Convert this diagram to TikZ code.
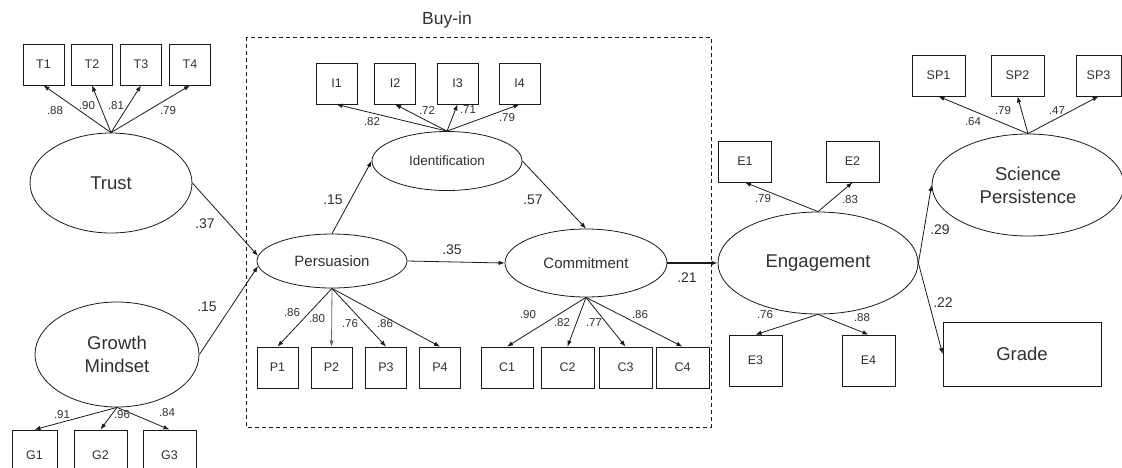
\documentclass[tikz,border=0pt]{standalone}
\usepackage{fontspec}
\setmainfont{Liberation Sans}
\usetikzlibrary{shapes.geometric,arrows.meta}
\definecolor{linec}{HTML}{1A1A1A}
\definecolor{textc}{HTML}{303030}
\begin{document}
\begin{tikzpicture}[x=1pt,y=-1pt,
  ind/.style={draw=linec, line width=0.8pt, rectangle, inner sep=0pt,
    minimum width=41pt, minimum height=41pt, text=textc,
    font=\fontsize{12.5}{14}\selectfont},
  lat/.style={draw=linec, line width=0.8pt, ellipse, inner sep=0pt,
    text=textc, align=center},
  big/.style={font=\fontsize{18.5}{23}\selectfont},
  mid/.style={font=\fontsize{15}{17}\selectfont},
  link/.style={-{Latex[length=6pt,width=4.5pt]}, line width=0.8pt, draw=linec},
  ldg/.style={font=\fontsize{11.5}{13}\selectfont, text=textc, inner sep=0pt},
  coef/.style={font=\fontsize{14}{16}\selectfont, text=textc, inner sep=0pt},
]
\clip (0,0) rectangle (1122,467);

% Buy-in group
\draw[linec, line width=0.8pt, dash pattern=on 4pt off 3pt] (246,37) rectangle (711,427);
\node[text=textc, font=\fontsize{17.5}{20}\selectfont, inner sep=0pt] (buyin) at (447,20) {Buy-in};

% latent variables
\node[lat, big, minimum width=162pt, minimum height=100pt] (trust) at (111,183) {Trust};
\node[lat, big, minimum width=164pt, minimum height=105pt] (growth) at (117,354.5) {Growth\\Mindset};
\node[lat, mid, minimum width=150pt, minimum height=54pt] (pers) at (332,261) {Persuasion};
\node[lat, font=\fontsize{13.5}{15}\selectfont, minimum width=150pt, minimum height=59pt] (ident) at (447,161) {Identification};
\node[lat, mid, minimum width=162pt, minimum height=68pt] (commit) at (586,263) {Commitment};
\node[lat, big, minimum width=200pt, minimum height=102pt] (engage) at (818,263) {Engagement};
\node[lat, big, minimum width=192pt, minimum height=102pt] (sci) at (1028,185) {Science\\Persistence};
\node[draw=linec, line width=0.8pt, rectangle, big, text=textc,
  minimum width=158pt, minimum height=64pt] (grade) at (1022,354) {Grade};

% indicators
\node[ind] (t1) at (43.5,64.5) {T1};
\node[ind] (t2) at (92,64.5) {T2};
\node[ind] (t3) at (141,64.5) {T3};
\node[ind] (t4) at (190,64.5) {T4};

\node[ind, minimum width=45pt, minimum height=50pt] (g1) at (34.5,455) {G1};
\node[ind, minimum width=53pt, minimum height=50pt] (g2) at (100.5,455) {G2};
\node[ind, minimum width=53pt, minimum height=50pt] (g3) at (169.5,455) {G3};

\node[ind] (i1) at (336.5,83.5) {I1};
\node[ind] (i2) at (395,83.5) {I2};
\node[ind] (i3) at (457.5,83.5) {I3};
\node[ind] (i4) at (519.5,83.5) {I4};

\node[ind] (p1) at (277.5,367.5) {P1};
\node[ind] (p2) at (331.5,367.5) {P2};
\node[ind] (p3) at (386,367.5) {P3};
\node[ind] (p4) at (440,367.5) {P4};

\node[ind, minimum width=52pt] (c1) at (507,367.5) {C1};
\node[ind, minimum width=53pt] (c2) at (567.5,367.5) {C2};
\node[ind, minimum width=53pt] (c3) at (625.5,367.5) {C3};
\node[ind, minimum width=53pt] (c4) at (682.5,367.5) {C4};

\node[ind, minimum width=53pt] (e1) at (745,161.5) {E1};
\node[ind, minimum width=53pt] (e2) at (852.5,161.5) {E2};
\node[ind, minimum width=53pt, minimum height=51pt] (e3) at (755.5,360.5) {E3};
\node[ind, minimum width=53pt, minimum height=51pt] (e4) at (868.5,360.5) {E4};

\node[ind, minimum width=53pt] (sp1) at (938.5,75.5) {SP1};
\node[ind, minimum width=53pt] (sp2) at (1017.5,75.5) {SP2};
\node[ind, minimum width=45pt] (sp3) at (1098.5,75.5) {SP3};

% measurement paths
\foreach \b in {t1,t2,t3,t4} \draw[link] (trust.north) -- (\b.south);
\foreach \b in {g1,g2,g3} \draw[link] (growth.south) -- (\b.north);
\foreach \b in {i1,i2,i3,i4} \draw[link] (ident.north) -- (\b.south);
\foreach \b in {p1,p3,p4} \draw[link] (pers.south) -- (\b.north);
\draw[link, draw=black!60] (pers.south) -- (p2.north);
\foreach \b in {c1,c2,c3,c4} \draw[link] (commit.south) -- (\b.north);
\foreach \b in {e1,e2} \draw[link] (engage.north) -- (\b.south);
\foreach \b in {e3,e4} \draw[link] (engage.south) -- (\b.north);
\foreach \b in {sp1,sp2,sp3} \draw[link] (sci.north) -- (\b.south);

% structural paths
\draw[link] (trust.east) -- (pers.176);
\draw[link] (growth.east) -- (pers.184);
\draw[link] (pers.north) -- (ident.west);
\draw[link] (ident.east) -- (commit.north);
\draw[link] (pers.east) -- (commit.west);
\draw[link, line width=1.3pt] (commit.east) -- (engage.west);
\draw[link] (engage.east) -- (sci.west);
\draw[link] (engage.east) -- (grade.west);

% loadings
\node[ldg] (lt1) at (55,111) {.88};
\node[ldg] (lt2) at (87,106) {.90};
\node[ldg] (lt3) at (116,106) {.81};
\node[ldg] (lt4) at (168,111) {.79};
\node[ldg] (lg1) at (62,415) {.91};
\node[ldg] (lg2) at (122,415) {.96};
\node[ldg] (lg3) at (167,413) {.84};
\node[ldg] (li1) at (372,122) {.82};
\node[ldg] (li2) at (427,110) {.72};
\node[ldg] (li3) at (468,110) {.71};
\node[ldg] (li4) at (507,118) {.79};
\node[ldg] (lp1) at (292,313) {.86};
\node[ldg] (lp2) at (317,319) {.80};
\node[ldg] (lp3) at (350,324) {.76};
\node[ldg] (lp4) at (385,324) {.86};
\node[ldg] (lc1) at (528,315) {.90};
\node[ldg] (lc2) at (562,323) {.82};
\node[ldg] (lc3) at (594,323) {.77};
\node[ldg] (lc4) at (640,315) {.86};
\node[ldg] (le1) at (763,199) {.79};
\node[ldg] (le2) at (850,200) {.83};
\node[ldg] (le3) at (765,315) {.76};
\node[ldg] (le4) at (862,318) {.88};
\node[ldg] (ls1) at (973,122) {.64};
\node[ldg] (ls2) at (1003,111) {.79};
\node[ldg] (ls3) at (1057,111) {.47};

% path coefficients
\node[coef] (ktp) at (205,224) {.37};
\node[coef] (kgp) at (207,307) {.15};
\node[coef] (kpi) at (333,200) {.15};
\node[coef] (kic) at (533,200) {.57};
\node[coef] (kpc) at (452,250) {.35};
\node[coef] (kce) at (687,278) {.21};
\node[coef] (kes) at (940,230) {.29};
\node[coef] (keg) at (943,303) {.22};
\end{tikzpicture}
\end{document}
